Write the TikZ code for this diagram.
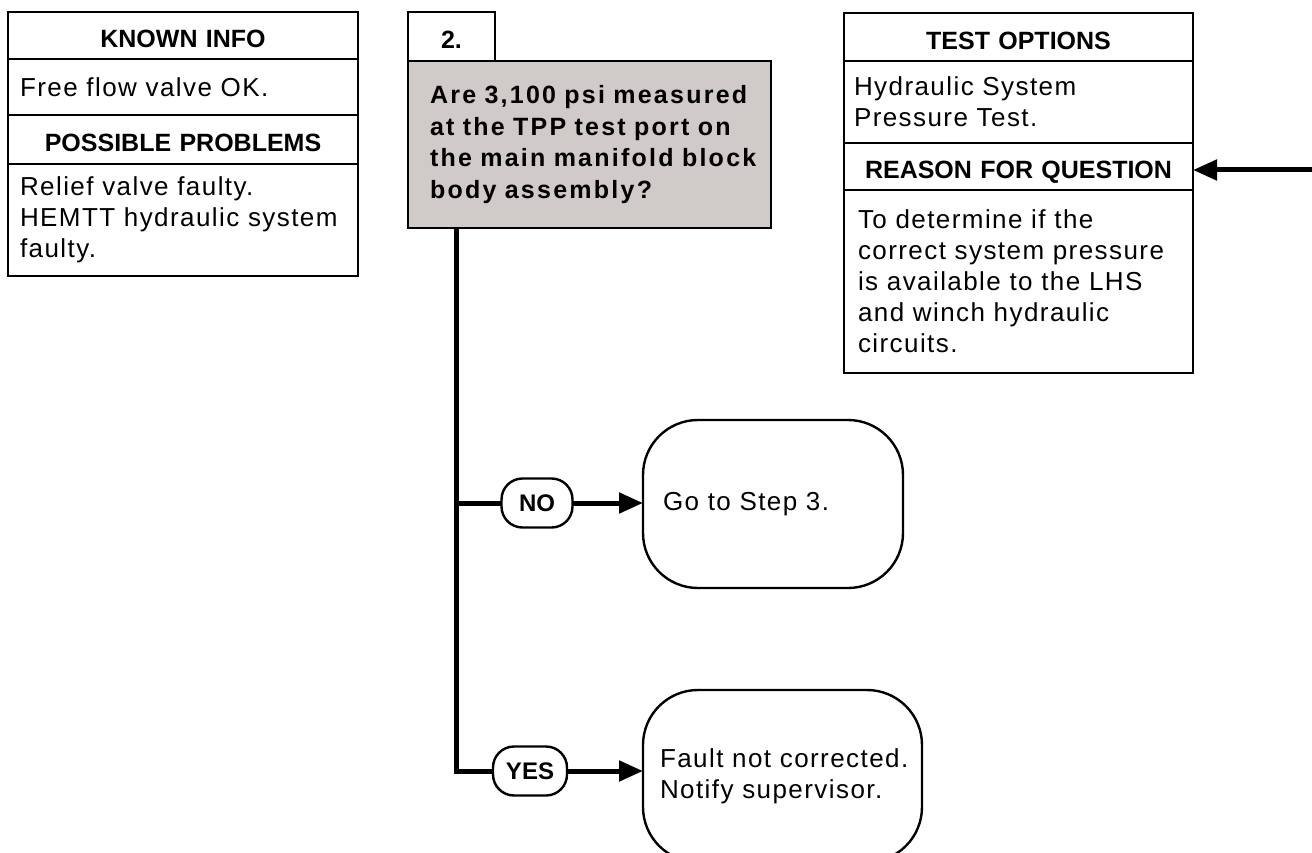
\documentclass[tikz,border=0pt]{standalone}
\usepackage{fontspec}
\setmainfont{Liberation Sans}
\newfontfamily\bodyf{Liberation Sans}[LetterSpace=5.5]
\newfontfamily\headf{Liberation Sans}[WordSpace=0.4]
\newfontfamily\qfont{Liberation Sans}[LetterSpace=9]
\usetikzlibrary{arrows.meta}
\definecolor{qgray}{RGB}{208,202,201}
\hyphenpenalty=10000
\exhyphenpenalty=10000
\hbadness=10000
\hfuzz=100pt
\begin{document}
\begin{tikzpicture}[x=1pt,y=-1pt,
  cell/.style={draw, line width=2.6pt, anchor=north west, outer sep=0pt, inner ysep=0pt, minimum height=#1},
  hd/.style={font=\headf\bfseries\fontsize{25pt}{30pt}\selectfont, align=center, text height=25pt, text depth=0pt},
  bd/.style={font=\bodyf\fontsize{26pt}{31pt}\selectfont, align=left},
  qt/.style={font=\qfont\bfseries\fontsize{25pt}{31.5pt}\selectfont, align=left},
  oval/.style={draw, line width=2.4pt, rounded corners=21pt, outer sep=0pt, inner sep=0pt,
    minimum height=49pt, font=\headf\bfseries\fontsize{24pt}{28pt}\selectfont},
  goal/.style={draw, line width=2.4pt, rounded corners=55pt, anchor=north west, outer sep=0pt,
    inner ysep=0pt, font=\bodyf\fontsize{26pt}{31pt}\selectfont, align=left},
  conn/.style={line width=5pt},
  tip/.style={-{Triangle[length=24pt,width=20pt]}}
]
\useasboundingbox (0,0) rectangle (1312,853);
\clip (0,0) rectangle (1312,853);

% left column
\node[cell=47pt, hd, text width=326pt, inner xsep=12pt] (kh) at (8,12) {KNOWN INFO};
\node[cell=56pt, bd, text width=326pt, inner xsep=12pt] (kb) at (kh.south west) {Free flow valve OK.};
\node[cell=49pt, hd, text width=326pt, inner xsep=12pt] (ph) at (kb.south west) {POSSIBLE PROBLEMS};
\node[cell=112pt, bd, text width=326pt, inner xsep=12pt] (pb) at (ph.south west)
  {Relief valve faulty.\\HEMTT~hydraulic~system\\faulty.};

% step and question
\node[cell=49pt, hd, text width=63pt, inner xsep=12pt] (sn) at (408,12) {2.};
\node[cell=167pt, qt, fill=qgray, text width=319pt, inner xsep=22pt] (q) at (sn.south west)
  {Are~3,100~psi~measured\\at~the~TPP~test~port~on\\the~main~manifold~block\\body~assembly?};

% right column
\node[cell=48pt, hd, text width=325pt, inner xsep=12pt] (th) at (844,13) {TEST OPTIONS};
\node[cell=82pt, bd, text width=329pt, inner xsep=10pt] (tb) at (th.south west) {Hydraulic System\\Pressure Test.};
\node[cell=47pt, hd, text width=325pt, inner xsep=12pt] (rh) at (tb.south west) {REASON FOR QUESTION};
\node[cell=183pt, bd, text width=321pt, inner xsep=14pt] (rb) at (rh.south west)
  {To determine if the\\correct~system~pressure\\is available to the LHS\\and winch hydraulic\\circuits.};

% answers
\node[oval, minimum width=71pt] (no) at (537,503) {NO};
\node[oval, minimum width=74pt] (yes) at (530,771) {YES};
\node[goal, minimum height=168pt, text width=220pt, inner xsep=20pt] (go) at (643,420) {Go to Step 3.};
\node[goal, minimum height=172pt, text width=245pt, inner xsep=17pt] (fault) at (643,690)
  {Fault~not~corrected.\\Notify supervisor.};

% connectors
\coordinate (trunk) at ([xshift=48pt]q.south west);
\draw[conn] (trunk) |- (yes.west);
\draw[conn] (trunk |- no.west) -- (no.west);
\draw[conn, tip] (no.east) -- (no.east -| go.west);
\draw[conn, tip] (yes.east) -- (yes.east -| fault.west);
\coordinate (rin) at (1312,170);
\draw[conn, tip] (rin) -- (rin -| rh.east);
\end{tikzpicture}
\end{document}
